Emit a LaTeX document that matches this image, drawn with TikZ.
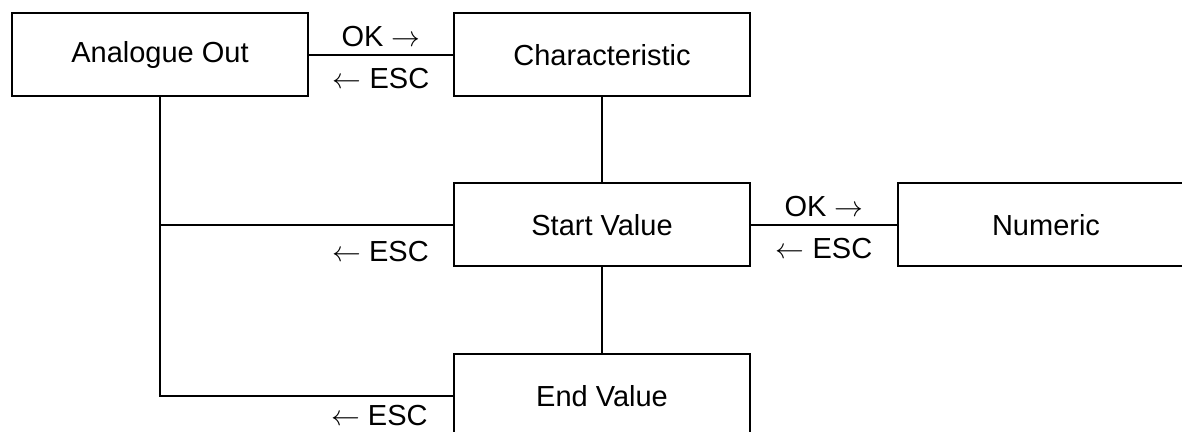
\documentclass[tikz,border=0pt]{standalone}
\usepackage{fontspec}
\setmainfont{Liberation Sans}
\usetikzlibrary{positioning}

\begin{document}
\begin{tikzpicture}[x=0.5pt, y=-0.5pt, node distance=73pt, line width=1pt,
  font=\fontsize{14.5}{17}\selectfont,
  menubox/.style={draw, minimum width=148pt, minimum height=41.5pt, inner sep=0pt, outer sep=0pt},
  key/.style={inner sep=3.5pt}]
	\useasboundingbox (0,0) rectangle (1182,432);
	\clip (0,0) rectangle (1182,432);

	\node[menubox] (anaOut) at (160,55) {Analogue Out};
	\node[menubox, right = of anaOut] (charac) {Characteristic};
	\node[menubox, below = 43.5pt of charac] (startVal) {Start Value};
	\node[menubox, right = 74pt of startVal] (numeric) {Numeric};
	\node[menubox, below = 44pt of startVal] (endVal) {End Value};

	\draw (anaOut) -- (charac) node[key, midway, above] {OK $\rightarrow$} node[key, midway, below=2.5pt] {$\leftarrow$ ESC};
	\draw (startVal) -- (numeric) node[key, midway, above] {OK $\rightarrow$} node[key, midway, below=2.5pt] {$\leftarrow$ ESC};
	\draw (charac) -- (startVal);
	\draw (startVal) -- (endVal);

	\draw (anaOut) |- (endVal) node[key, pos=0.873, below=0.5pt] {$\leftarrow$ ESC};
	\draw (startVal.west) -- (startVal.west -| anaOut.south) node[key, pos=0.25, below=4pt] {$\leftarrow$ ESC};
\end{tikzpicture}
\end{document}
